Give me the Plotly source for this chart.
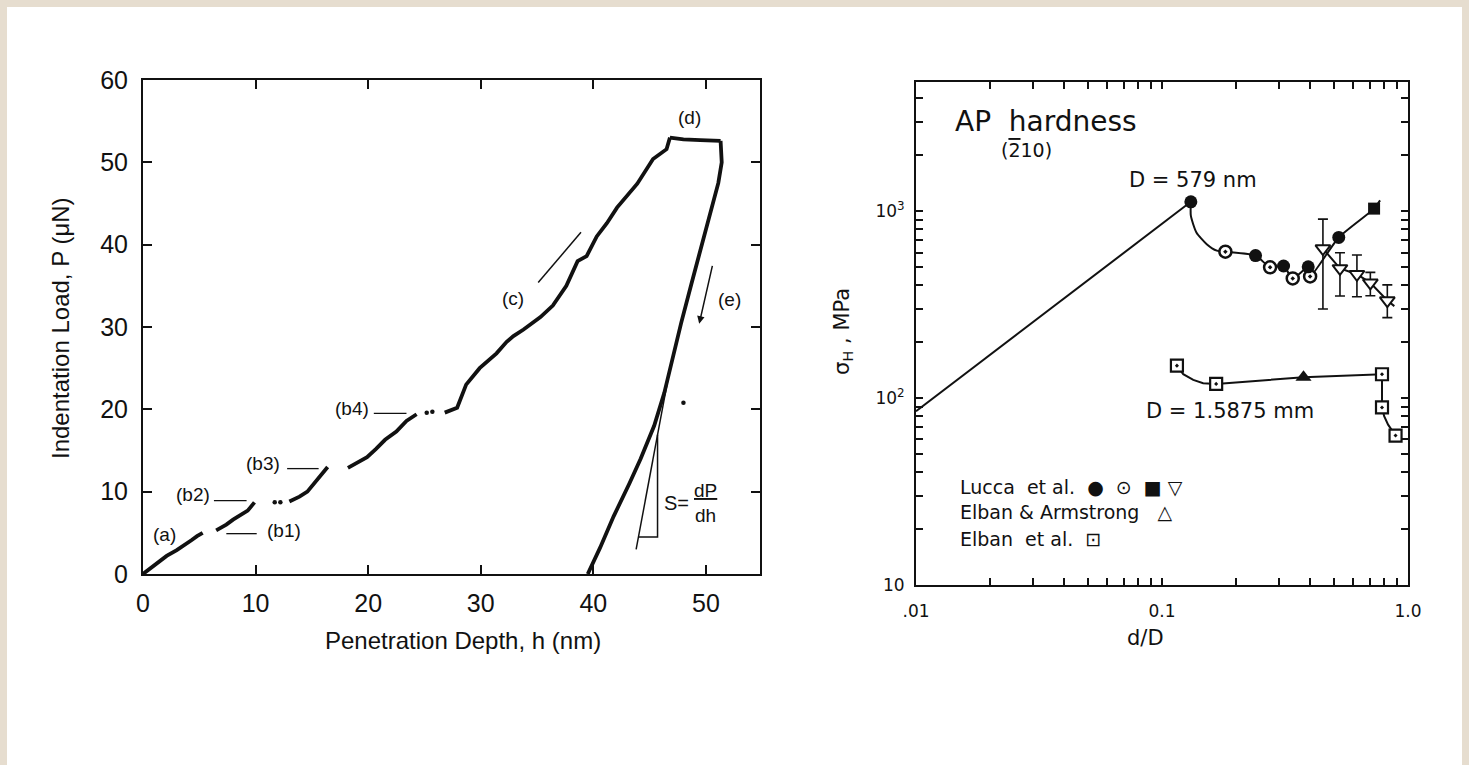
import plotly.graph_objects as go

W, H = 1469, 765

# ---------------- Left panel: load-displacement (h in nm, P in uN) ----------------
seg_a_h = [0.0, 0.5, 1.2, 2.1, 3.0, 3.6, 4.3, 4.8, 5.3]
seg_a_P = [0.0, 0.5, 1.2, 2.2, 2.9, 3.4, 4.1, 4.6, 5.0]
seg_b1_h = [6.5, 7.4, 8.0, 8.6, 9.3, 9.9]
seg_b1_P = [5.3, 6.0, 6.6, 7.1, 7.7, 8.7]
dots_h = [11.7, 12.2, 25.2, 25.7]
dots_P = [8.7, 8.7, 19.6, 19.7]
seg_b2_h = [13.0, 13.9, 14.6, 15.1, 15.85, 16.4]
seg_b2_P = [8.8, 9.4, 10.0, 10.8, 12.0, 13.0]
seg_b3_h = [18.2, 19.0, 19.9, 20.7, 21.5, 22.5, 23.4, 24.3]
seg_b3_P = [12.9, 13.5, 14.2, 15.2, 16.3, 17.3, 18.6, 19.4]
seg_c_h = [26.8, 27.9, 28.7, 29.9, 31.4, 32.3, 32.9, 33.8, 35.3, 36.4, 37.6,
           38.6, 39.4, 40.3, 41.2, 42.1, 43.9, 45.3, 46.5, 46.8]
seg_c_P = [19.6, 20.2, 23.0, 25.0, 26.8, 28.2, 28.9, 29.7, 31.2, 32.6, 35.0,
           38.0, 38.6, 41.0, 42.6, 44.5, 47.4, 50.4, 51.6, 53.0]
hold_h = [46.8, 48.0, 49.5, 51.1, 51.3]
hold_P = [53.0, 52.8, 52.7, 52.6, 52.6]
unload_h = [51.3, 51.4, 51.1, 50.4, 49.6, 48.7, 47.8, 47.1, 46.3, 45.4, 44.2, 43.2, 41.8, 40.6, 39.5]
unload_P = [52.6, 50.0, 47.5, 44.0, 40.0, 35.2, 30.5, 26.5, 22.0, 18.0, 14.0, 11.0, 7.0, 3.2, 0.0]
stray_h = [48.0]
stray_P = [20.8]

tangent_h = [43.8, 46.6]
tangent_P = [3.0, 23.5]
tri_h = [44.0, 45.7, 45.7]
tri_P = [4.5, 4.5, 16.9]
arrow_load_h = [35.1, 38.9]
arrow_load_P = [35.4, 41.5]
arrow_unload_tail = (50.6, 37.6)
arrow_unload_head = (49.4, 30.4)

left_labels = ["(a)", "(b1)", "(b2)", "(b3)", "(b4)", "(c)", "(d)", "(e)"]
left_label_h = [1.9, 12.5, 4.4, 10.7, 18.6, 32.9, 48.5, 52.1]
left_label_P = [4.8, 5.3, 9.6, 13.4, 20.1, 33.5, 55.5, 33.4]
leader_h = [[7.4, 10.1], [6.3, 9.2], [12.8, 15.6], [20.5, 23.4]]
leader_P = [[4.9, 4.9], [8.9, 8.9], [12.8, 12.8], [19.5, 19.5]]

left_xticks = [0, 10, 20, 30, 40, 50]
left_yticks = [0, 10, 20, 30, 40, 50, 60]

# ---------------- Right panel: hardness vs d/D (log-log) ----------------
lucca_fill_x = [0.131, 0.240, 0.312, 0.393, 0.523]
lucca_fill_y = [1120, 578, 508, 503, 722]
lucca_open_x = [0.181, 0.275, 0.340, 0.400]
lucca_open_y = [606, 500, 436, 447]
lucca_sq_x = [0.728]
lucca_sq_y = [1030]
lucca_tri_x = [0.451, 0.529, 0.620, 0.703, 0.824]
lucca_tri_y = [630, 493, 459, 413, 332]
lucca_tri_hi = [905, 598, 582, 470, 403]
lucca_tri_lo = [299, 351, 348, 352, 269]
elban_arm_x = [0.376]
elban_arm_y = [129]
elban_sq_x = [0.115, 0.166, 0.784, 0.784, 0.890]
elban_sq_y = [149, 119, 134, 89, 63]

line_peak_x = [0.01, 0.131]
line_peak_y = [85, 1120]
curve_upper_x = [0.131, 0.131, 0.138, 0.152, 0.167, 0.181, 0.240, 0.275, 0.312, 0.340, 0.393, 0.400, 0.523, 0.728, 0.770]
curve_upper_y = [1120, 944, 768, 665, 614, 606, 578, 500, 508, 436, 503, 447, 722, 1030, 1140]
curve_tri_x = [0.451, 0.529, 0.620, 0.703, 0.824, 0.880]
curve_tri_y = [630, 493, 459, 413, 332, 310]
curve_lower_x = [0.115, 0.122, 0.134, 0.147, 0.166, 0.376, 0.784, 0.784, 0.800, 0.830, 0.890]
curve_lower_y = [149, 134, 125, 120, 119, 129, 134, 89, 80, 72, 63]

right_xtick_text = [".01", "0.1", "1.0"]
right_ytick_text = ["10", "10<sup>2</sup>", "10<sup>3</sup>"]


def join(hs, ps):
    xs, ys = [], []
    for h, p in zip(hs, ps):
        xs += list(h) + [None]
        ys += list(p) + [None]
    return xs, ys


def px(x, y):
    return x / W, 1 - y / H


BLACK = "#111111"
FL = "Liberation Sans, Arial, sans-serif"
FR = "DejaVu Sans, sans-serif"

fig = go.Figure()

lx, ly = join([seg_a_h, seg_b1_h, seg_b2_h, seg_b3_h, seg_c_h, hold_h, unload_h],
              [seg_a_P, seg_b1_P, seg_b2_P, seg_b3_P, seg_c_P, hold_P, unload_P])
fig.add_trace(go.Scatter(x=lx, y=ly, mode="lines", line=dict(color=BLACK, width=3.8),
                         xaxis="x", yaxis="y", showlegend=False))
fig.add_trace(go.Scatter(x=dots_h + stray_h, y=dots_P + stray_P, mode="markers",
                         marker=dict(color=BLACK, size=4.5), xaxis="x", yaxis="y", showlegend=False))
ldx, ldy = join(leader_h, leader_P)
fig.add_trace(go.Scatter(x=ldx, y=ldy, mode="lines", line=dict(color=BLACK, width=1.3),
                         xaxis="x", yaxis="y", showlegend=False))
tx, ty = join([tangent_h, tri_h, arrow_load_h], [tangent_P, tri_P, arrow_load_P])
fig.add_trace(go.Scatter(x=tx, y=ty, mode="lines", line=dict(color=BLACK, width=1.5),
                         xaxis="x", yaxis="y", showlegend=False))

# ---- right panel traces
fig.add_trace(go.Scatter(x=line_peak_x, y=line_peak_y, mode="lines",
                         line=dict(color=BLACK, width=2), xaxis="x2", yaxis="y2", showlegend=False))
fig.add_trace(go.Scatter(x=curve_upper_x, y=curve_upper_y, mode="lines", line_shape="spline",
                         line=dict(color=BLACK, width=2, smoothing=0.6), xaxis="x2", yaxis="y2", showlegend=False))
fig.add_trace(go.Scatter(x=curve_tri_x, y=curve_tri_y, mode="lines",
                         line=dict(color=BLACK, width=2), xaxis="x2", yaxis="y2", showlegend=False))
fig.add_trace(go.Scatter(x=curve_lower_x, y=curve_lower_y, mode="lines",
                         line=dict(color=BLACK, width=2), xaxis="x2", yaxis="y2", showlegend=False))

fig.add_trace(go.Scatter(x=lucca_tri_x, y=lucca_tri_y, mode="markers",
                         marker=dict(symbol="triangle-down", size=13, color="white",
                                     line=dict(color=BLACK, width=2)),
                         error_y=dict(type="data", symmetric=False,
                                      array=[h - v for h, v in zip(lucca_tri_hi, lucca_tri_y)],
                                      arrayminus=[v - l for v, l in zip(lucca_tri_y, lucca_tri_lo)],
                                      color=BLACK, thickness=1.6, width=5),
                         xaxis="x2", yaxis="y2", showlegend=False))
fig.add_trace(go.Scatter(x=lucca_open_x, y=lucca_open_y, mode="markers",
                         marker=dict(symbol="circle-dot", size=12, color="white",
                                     line=dict(color=BLACK, width=2.5)),
                         xaxis="x2", yaxis="y2", showlegend=False))
fig.add_trace(go.Scatter(x=lucca_fill_x, y=lucca_fill_y, mode="markers",
                         marker=dict(symbol="circle", size=13, color=BLACK),
                         xaxis="x2", yaxis="y2", showlegend=False))
fig.add_trace(go.Scatter(x=lucca_sq_x, y=lucca_sq_y, mode="markers",
                         marker=dict(symbol="square", size=12, color=BLACK),
                         xaxis="x2", yaxis="y2", showlegend=False))
fig.add_trace(go.Scatter(x=elban_sq_x, y=elban_sq_y, mode="markers",
                         marker=dict(symbol="square-dot", size=12, color="white",
                                     line=dict(color=BLACK, width=2.2)),
                         xaxis="x2", yaxis="y2", showlegend=False))
fig.add_trace(go.Scatter(x=elban_arm_x, y=elban_arm_y, mode="markers",
                         marker=dict(symbol="triangle-up", size=14, color=BLACK),
                         xaxis="x2", yaxis="y2", showlegend=False))

axis_common = dict(showgrid=False, zeroline=False, showline=True, linecolor=BLACK,
                   linewidth=2, ticks="inside", mirror="ticks", tickcolor=BLACK,
                   automargin=False)

xt2 = [m * 10 ** e for e in (-2, -1) for m in range(1, 10)] + [1.0]
xt2_text = [(right_xtick_text[i] if m == 1 else "") for i, e in enumerate((-2, -1)) for m in range(1, 10)] + [right_xtick_text[2]]
yt2 = [m * 10 ** e for e in (1, 2, 3) for m in range(1, 10) if m * 10 ** e <= 4000]
yt2_text = [(right_ytick_text[i] if m == 1 else "") for i, e in enumerate((1, 2, 3)) for m in range(1, 10) if m * 10 ** e <= 4000]

fig.update_layout(
    template="none",
    width=W, height=H,
    autosize=False,
    margin=dict(l=0, r=0, t=0, b=0, pad=0, autoexpand=False),
    paper_bgcolor="#e6ddcf",
    plot_bgcolor="white",
    font=dict(family=FL, color=BLACK),
    xaxis=dict(**axis_common, domain=[143 / W, 760 / W], range=[0, 54.8],
               tickvals=left_xticks, ticklen=9, tickwidth=1.6,
               tickfont=dict(family=FL, size=25, color=BLACK), ticklabelstandoff=6,
               anchor="y"),
    yaxis=dict(**axis_common, domain=[1 - 574 / H, 1 - 80 / H], range=[0, 60],
               tickvals=left_yticks, ticklen=9, tickwidth=1.6,
               tickfont=dict(family=FL, size=25, color=BLACK), ticklabelstandoff=8,
               anchor="x"),
    xaxis2=dict(**axis_common, type="log", domain=[916 / W, 1408 / W], range=[-2, 0],
                tickvals=xt2, ticktext=xt2_text, ticklen=7, tickwidth=1.6,
                tickfont=dict(family=FR, size=17, color=BLACK), ticklabelstandoff=10,
                anchor="y2"),
    yaxis2=dict(**axis_common, type="log", domain=[1 - 585 / H, 1 - 82 / H], range=[1, 3.69],
                tickvals=yt2, ticktext=yt2_text, ticklen=7, tickwidth=1.6,
                tickfont=dict(family=FR, size=17, color=BLACK), ticklabelstandoff=6,
                anchor="x2"),
    shapes=[dict(type="rect", xref="paper", yref="paper", x0=7 / W, x1=1 - 7 / W,
                 y0=0, y1=1 - 7 / H, fillcolor="white", line=dict(width=0), layer="below")],
)

ann = []
for t, h, p in zip(left_labels, left_label_h, left_label_P):
    ann.append(dict(x=h, y=p, xref="x", yref="y", text=t, showarrow=False,
                    xanchor="center", yanchor="middle",
                    font=dict(family=FL, size=19, color=BLACK)))
ann.append(dict(x=47.4, y=8.6, xref="x", yref="y", text="S=", showarrow=False,
                xanchor="center", yanchor="middle", font=dict(family=FL, size=20, color=BLACK)))
ann.append(dict(x=50.0, y=8.6, xref="x", yref="y", text="<u>dP</u><br>dh", showarrow=False,
                xanchor="center", yanchor="middle", font=dict(family=FL, size=19, color=BLACK)))
ann.append(dict(x=arrow_unload_head[0], y=arrow_unload_head[1], ax=arrow_unload_tail[0],
                ay=arrow_unload_tail[1], xref="x", yref="y", axref="x", ayref="y",
                showarrow=True, arrowhead=2, arrowsize=1, arrowwidth=1.5, arrowcolor=BLACK, text=""))


def ptext(x, y, t, size, family, anchor="center", angle=0):
    a, b = px(x, y)
    ann.append(dict(x=a, y=b, xref="paper", yref="paper", text=t, showarrow=False,
                    xanchor=anchor, yanchor="middle", textangle=angle,
                    font=dict(family=family, size=size, color=BLACK)))


ptext(463, 640, "Penetration Depth, h (nm)", 24, FL)
ptext(60, 328, "Indentation Load, P (μN)", 24, FL, "center", -90)

ptext(953, 121, "AP  hardness", 28, FR, "left")
ptext(1026, 150, "(<span style='text-decoration:overline'>2</span>10)", 19, FR)
ptext(1193, 180, "D = 579 nm", 21, FR)
ptext(1230, 411, "D = 1.5875 mm", 21, FR)
ptext(958, 487, "Lucca  et al.  ●  ⊙  ■ ▽", 19, FR, "left")
ptext(958, 512, "Elban &amp; Armstrong   △", 19, FR, "left")
ptext(958, 539, "Elban  et al.  ⊡", 19, FR, "left")
ptext(1145, 638, "d/D", 21, FR)
ptext(843, 332, "σ<sub>H</sub> , MPa", 21, FR, "center", -90)

fig.update_layout(annotations=ann)
fig.write_html("out.html", config={"displayModeBar": False},
               post_script="document.body.style.margin='0px';document.body.style.overflow='hidden';")
